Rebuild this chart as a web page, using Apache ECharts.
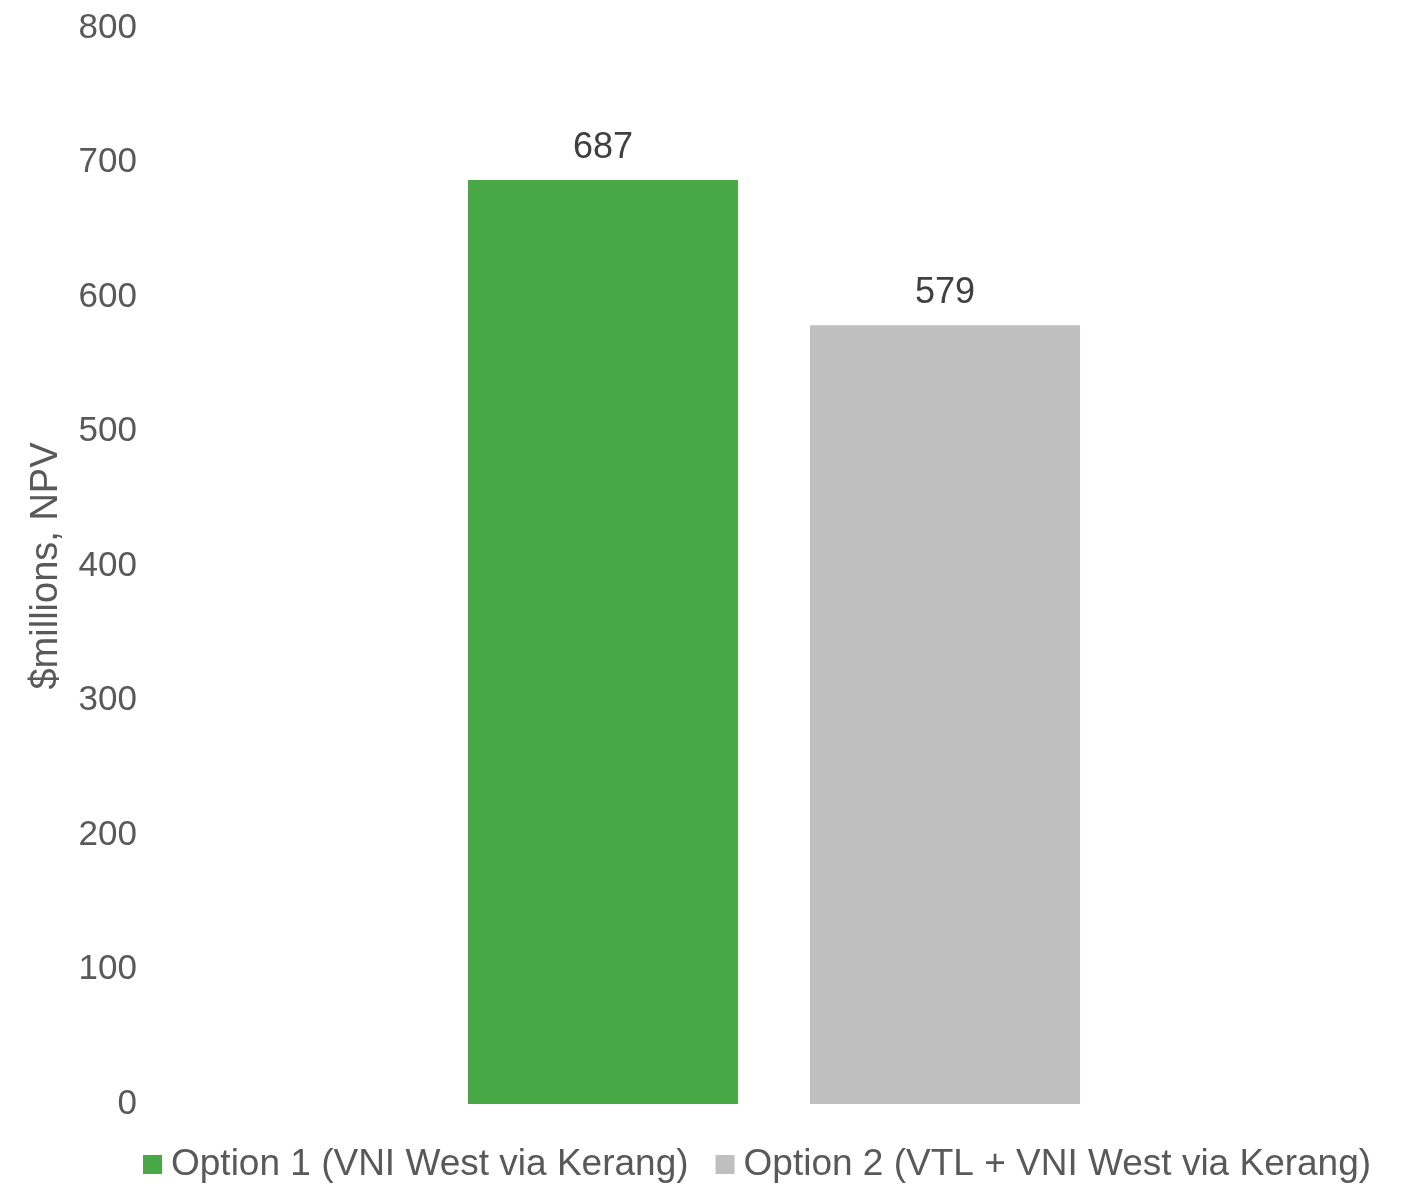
<!DOCTYPE html>
<html><head><meta charset="utf-8">
<script src="https://cdn.jsdelivr.net/npm/echarts@6/dist/echarts.min.js"></script>
<style>html,body{margin:0;padding:0;background:#fff}#c{width:1411px;height:1184px}</style>
</head><body><div id="c"></div>
<script>
const categories = [''];
const seriesNames = ['Option 1 (VNI West via Kerang)', 'Option 2 (VTL + VNI West via Kerang)'];
const option1Values = [687];
const option2Values = [579];
const yTicks = { min: 0, max: 800, interval: 100 };
const yTitle = '$millions, NPV';

const chart = echarts.init(document.getElementById('c'));
const font = 'Liberation Sans, Arial, sans-serif';
chart.setOption({
  animation: false,
  grid: { left: 150, right: 13, top: 28, bottom: 80 },
  legend: {
    top: 1146, left: 143, padding: 0,
    itemWidth: 19, itemHeight: 19, itemGap: 27,
    icon: 'rect',
    textStyle: { fontSize: 37, color: '#595959', fontFamily: font, padding: [0, 0, 0, 4] },
    data: seriesNames
  },
  xAxis: {
    type: 'category', data: categories,
    axisLine: { show: false }, axisTick: { show: false }, axisLabel: { show: false }
  },
  yAxis: {
    type: 'value', min: yTicks.min, max: yTicks.max, interval: yTicks.interval,
    name: yTitle, nameLocation: 'middle', nameGap: 84, nameRotate: 90,
    nameTextStyle: { fontSize: 38, color: '#595959', fontFamily: font },
    axisLine: { show: false }, axisTick: { show: false }, splitLine: { show: false },
    axisLabel: { fontSize: 35, color: '#595959', fontFamily: font, margin: 13 }
  },
  series: [
    { name: seriesNames[0], type: 'bar', data: option1Values, barWidth: 270, barGap: '26.7%',
      itemStyle: { color: '#48A846' },
      label: { show: true, position: 'top', distance: 14, fontSize: 36, color: '#404040', fontFamily: font } },
    { name: seriesNames[1], type: 'bar', data: option2Values, barWidth: 270, barGap: '26.7%',
      itemStyle: { color: '#BFBFBF' },
      label: { show: true, position: 'top', distance: 14, fontSize: 36, color: '#404040', fontFamily: font } }
  ]
});
</script></body></html>
